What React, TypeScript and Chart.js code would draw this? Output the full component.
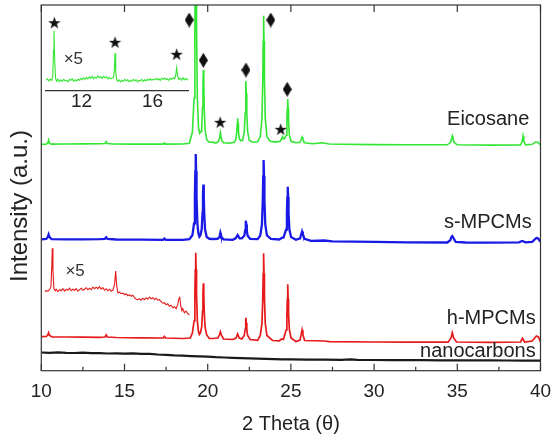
import { useEffect, useRef } from "react";
import { Chart, registerables } from "chart.js";

Chart.register(...registerables);

const FONT = '"Liberation Sans", Arial, Helvetica, sans-serif';
const TEXT = "#222222";
const FRAME = "#333333";

// ---------- axes ----------
const X_MIN = 10;
const X_MAX = 40;
const xMajorTicks = [10, 15, 20, 25, 30, 35, 40];
const xMinorTicks = [12.5, 17.5, 22.5, 27.5, 32.5, 37.5];
const Y_MIN = 0;
const Y_MAX = 365.7;
const insetTicks = [12, 16];
const INSET_X_MIN = 10;
const INSET_X_MAX = 18;
const INSET_Y_MAX = 70.3;

// ---------- stacking offsets (arbitrary units) ----------
const EICOSANE_OFFSET = 226.4;
const SMPCM_OFFSET = 130.4;
const HMPCM_OFFSET = 33.7;
const HMPCM_ZOOM_OFFSET = 80;
const NANOCARBON_OFFSET = 10;

// ---------- series: [2θ, intensity] ----------
const eicosane = [
  [10.0, 0], [10.3, 0.2], [10.39, 1.5], [10.44, 4.3], [10.49, 1.2], [10.6, 0.2], [11.5, 0.3],
  [12.5, 0.4], [13.5, 0.5], [13.84, 0.8], [13.9, 2.6], [13.96, 0.8], [14.3, 0.3], [15.5, 0.2],
  [16.5, 0.2], [17.34, 0.2], [17.4, 1.3], [17.46, 0.2], [18.5, 0.3], [18.9, 1], [19.08, 12],
  [19.18, 46], [19.23, 115], [19.255, 184], [19.28, 230], [19.305, 184], [19.33, 115],
  [19.38, 46], [19.45, 16], [19.52, 11], [19.6, 13], [19.64, 16], [19.69, 37], [19.715, 59.4],
  [19.74, 74.3], [19.765, 59.4], [19.79, 37], [19.84, 15], [19.94, 4.5], [20.1, 2], [20.3, 2.2],
  [20.45, 1.2], [20.6, 2], [20.66, 3.5], [20.71, 6.5], [20.735, 9.3], [20.76, 11.6],
  [20.785, 9.3], [20.81, 6.5], [20.86, 3.5], [20.96, 1.5], [21.3, 1], [21.6, 2], [21.7, 5.2],
  [21.75, 13], [21.775, 20.8], [21.8, 26], [21.825, 20.8], [21.85, 13], [21.9, 5.5], [22.0, 3.5],
  [22.1, 4], [22.2, 12.7], [22.25, 31.6], [22.275, 50.6], [22.3, 63.3], [22.325, 50.6],
  [22.35, 31.6], [22.4, 12.7], [22.5, 4], [22.7, 2], [23.0, 2.5], [23.16, 7.7], [23.26, 25.7],
  [23.31, 64], [23.335, 103], [23.36, 128.6], [23.385, 103], [23.41, 64], [23.46, 25.7],
  [23.56, 7.7], [23.75, 3], [24.1, 2.2], [24.35, 3], [24.45, 5.5], [24.5, 7.6], [24.55, 5.5],
  [24.61, 5.5], [24.71, 9], [24.76, 22.6], [24.785, 36], [24.81, 45.3], [24.835, 36],
  [24.86, 22.6], [24.91, 9], [25.01, 3], [25.3, 1.5], [25.55, 2], [25.62, 5], [25.67, 7.3],
  [25.72, 5], [25.82, 1.5], [26.3, 0.5], [26.9, 1.5], [27.3, 0.3], [28, 0], [30, -0.3],
  [32, -0.5], [34.4, -0.5], [34.6, 2], [34.66, 6], [34.7, 8.3], [34.74, 6], [34.8, 2],
  [35.0, -0.5], [37, -0.8], [38.8, -0.7], [38.9, 3], [38.95, 8.3], [39.0, 3], [39.1, -0.5],
  [39.5, 0], [39.72, 2.5], [39.85, 1.8], [40, -0.5],
];

const sMPCMs = [
  [10.0, 1], [10.3, 1.3], [10.38, 3], [10.44, 6], [10.5, 3], [10.62, 1.2], [11.5, 1], [12.5, 1],
  [13.5, 1.2], [13.82, 1.5], [13.9, 3], [13.98, 1.3], [14.5, 0.8], [16, 0.6], [17.32, 0.5],
  [17.4, 1.8], [17.48, 0.5], [18.5, 0.5], [18.9, 1.2], [19.08, 5], [19.18, 17], [19.23, 43],
  [19.255, 69], [19.28, 86.3], [19.305, 69], [19.33, 43], [19.38, 17], [19.44, 7], [19.5, 3.6],
  [19.56, 5], [19.64, 11], [19.69, 28], [19.715, 44.6], [19.74, 55.8], [19.765, 44.6],
  [19.79, 28], [19.84, 11], [19.94, 3.3], [20.1, 1.5], [20.3, 1.3], [20.6, 1.5], [20.68, 3],
  [20.73, 5.5], [20.76, 7.6], [20.79, 5.5], [20.84, 3], [20.95, 1], [21.5, 0.5], [21.68, 2],
  [21.75, 4], [21.8, 5.3], [21.85, 4], [21.92, 2], [22.05, 2], [22.2, 4.5], [22.25, 9.8],
  [22.275, 15.7], [22.3, 19.6], [22.325, 15.7], [22.35, 9.8], [22.4, 4.5], [22.55, 1.5],
  [23.0, 1.2], [23.16, 4.8], [23.26, 16], [23.31, 40], [23.335, 64], [23.36, 80.3],
  [23.385, 64], [23.41, 40], [23.46, 16], [23.56, 4.8], [23.8, 1.5], [24.3, 0.8], [24.42, 2],
  [24.48, 2.6], [24.55, 2.6], [24.71, 10.7], [24.76, 27], [24.785, 43], [24.81, 53.6],
  [24.835, 43], [24.86, 27], [24.91, 10.7], [25.01, 3.2], [25.3, 0.5], [25.55, 2], [25.62, 6],
  [25.67, 8.8], [25.72, 6], [25.82, 1.5], [26.2, -0.5], [27.0, -0.2], [27.5, -1], [30, -1.5],
  [32, -2], [34.4, -2.2], [34.58, 0], [34.65, 3.5], [34.7, 4.3], [34.76, 2.5], [34.9, -1.5],
  [35.5, -2.2], [37, -2.3], [38.7, -2], [38.9, -0.7], [39.1, -2], [39.5, -1.5], [39.75, 2.4],
  [39.85, 2], [40, -1.5],
];

const hMPCMs = [
  [10.0, 0.3], [10.3, 0.5], [10.39, 2], [10.44, 4.3], [10.5, 1.5], [10.65, 0], [11.5, 0],
  [12.5, -0.2], [13.5, -0.3], [13.83, 0], [13.9, 2], [13.97, 0], [14.5, -0.5], [16, -0.8],
  [17.33, -1], [17.4, 0.5], [17.47, -1], [18.5, -1.5], [18.95, -1], [19.08, 4], [19.18, 16],
  [19.23, 42], [19.255, 67.4], [19.28, 84.3], [19.305, 67.4], [19.33, 42], [19.38, 16],
  [19.44, 6], [19.5, 2.5], [19.56, 4], [19.64, 10], [19.69, 26], [19.715, 43], [19.74, 53.7],
  [19.765, 43], [19.79, 26], [19.84, 10], [19.94, 2], [20.1, -1.5], [20.3, -1.5], [20.62, -1],
  [20.7, 2], [20.76, 5.3], [20.82, 2], [20.95, -2], [21.5, -2.5], [21.7, -1], [21.8, 3],
  [21.9, -1], [22.05, -2], [22.2, 1.5], [22.25, 7.5], [22.275, 14], [22.3, 19.3], [22.325, 14],
  [22.35, 7.5], [22.4, 1.5], [22.55, -2.5], [23.0, -3.3], [23.16, 1.5], [23.26, 13.5],
  [23.31, 38.5], [23.335, 63.5], [23.36, 83.7], [23.385, 63.5], [23.41, 38.5], [23.46, 13.5],
  [23.56, 1.5], [23.9, -3.5], [24.3, -3.8], [24.45, -2], [24.55, -2.5], [24.71, 7],
  [24.76, 22.5], [24.785, 38], [24.81, 52.7], [24.835, 38], [24.86, 22.5], [24.91, 7],
  [25.01, -1], [25.3, -4.5], [25.55, -3], [25.62, 2.5], [25.67, 7], [25.72, 2.5], [25.82, -3.5],
  [27, -4], [27.3, -4.6], [30, -5], [32, -5.2], [34.45, -5.2], [34.62, -1], [34.7, 4.3],
  [34.78, -1], [34.95, -5], [37, -5.3], [38.8, -5], [38.92, -1.3], [39.05, -5], [39.5, -4],
  [39.75, 1], [39.88, 0], [40, -5],
];

// h-MPCMs low-angle region magnified x5
const hMPCMsZoom = [
  [10.22, -1], [10.3, 0], [10.4, -0.5], [10.5, 1], [10.58, 4], [10.63, 25], [10.66, 42.4],
  [10.7, 20], [10.76, 2], [10.85, 0], [10.9, 1.5], [11.0, -1], [11.1, 1], [11.2, 0],
  [11.3, 2], [11.4, -0.5], [11.5, 1.5], [11.6, 0.5], [11.7, 2.5], [11.8, 0], [11.9, 1.5],
  [12.0, 0.5], [12.1, 2], [12.2, -0.5], [12.3, 1], [12.4, 2.5], [12.5, 0.5], [12.6, 1.5],
  [12.7, 3], [12.8, 1], [12.9, 2.5], [13.0, 1], [13.1, 3.5], [13.2, 2], [13.3, 3.5],
  [13.4, 2], [13.5, 4], [13.6, 1.5], [13.7, 3], [13.8, 0.5], [13.9, 2], [14.0, 0],
  [14.1, 1.5], [14.2, -0.5], [14.3, 0.5], [14.4, 6], [14.47, 19.7], [14.53, 5], [14.6, -2],
  [14.7, -1.5], [14.8, -3], [14.9, -2.5], [15.0, -4], [15.1, -3], [15.2, -5], [15.3, -4],
  [15.4, -5.5], [15.5, -4.5], [15.6, -7], [15.7, -8.5], [15.8, -9], [15.9, -8], [16.0, -9.5],
  [16.1, -7.5], [16.2, -9], [16.3, -7], [16.4, -8.5], [16.5, -6.5], [16.6, -8], [16.7, -7],
  [16.8, -9], [16.9, -7.5], [17.0, -9.5], [17.1, -9], [17.2, -11], [17.3, -12.5], [17.4, -12],
  [17.5, -14], [17.6, -13], [17.7, -15.5], [17.8, -14.5], [17.9, -17], [18.0, -16],
  [18.1, -18], [18.2, -14], [18.27, -8], [18.32, -6.6], [18.38, -15], [18.45, -20],
  [18.5, -18], [18.6, -22], [18.7, -20.5], [18.8, -23], [18.9, -24.3],
];

const nanocarbons = [
  [10, 8.2], [10.5, 7.8], [11, 8.3], [11.5, 7.9], [12, 7.7], [12.5, 8.1], [13, 7.5],
  [13.5, 7.6], [14, 7.2], [14.5, 7.4], [15, 7.0], [15.5, 7.3], [16, 6.8], [16.5, 6.9],
  [17, 6.2], [17.5, 5.9], [18, 5.3], [18.5, 5.0], [19, 4.6], [19.5, 4.3], [20, 4.0],
  [20.5, 3.5], [21, 3.2], [21.5, 2.9], [22, 2.6], [22.5, 2.3], [23, 2.0], [23.5, 1.8],
  [24, 1.6], [24.5, 1.4], [25, 1.3], [26, 1.1], [27, 1.0], [28, 0.9], [28.6, 1.3], [29, 0.8],
  [30, 0.7], [31, 0.6], [32, 0.6], [33, 0.5], [34, 0.4], [35, 0.4], [36, 0.3], [37, 0.3],
  [38, 0.2], [39, 0.1], [40, 0],
];

// Eicosane low-angle region magnified x5 (inset)
const eicosaneZoom = [
  [10.0, 10], [10.08, 11.5], [10.16, 9.5], [10.24, 11], [10.32, 10], [10.38, 14], [10.42, 40],
  [10.45, 59.6], [10.49, 30], [10.54, 12], [10.6, 9], [10.68, 11], [10.76, 8.5], [10.84, 10.5],
  [10.92, 9], [11.0, 11], [11.08, 9.5], [11.16, 10], [11.24, 8.5], [11.32, 11], [11.4, 10],
  [11.48, 11.5], [11.56, 9], [11.64, 10.5], [11.72, 9.5], [11.8, 11], [11.88, 10], [11.96, 12],
  [12.04, 10.5], [12.12, 12.5], [12.2, 11], [12.28, 13], [12.36, 11.5], [12.44, 13.5],
  [12.52, 12], [12.6, 14], [12.68, 11.5], [12.76, 13], [12.84, 12], [12.92, 14.5], [13.0, 12.5],
  [13.08, 13.5], [13.16, 12], [13.24, 14], [13.32, 12.5], [13.4, 13.5], [13.48, 11.5],
  [13.56, 13], [13.64, 11.5], [13.72, 12], [13.8, 13], [13.85, 20], [13.89, 37], [13.93, 18],
  [13.98, 11], [14.04, 9], [14.12, 10.5], [14.2, 8.5], [14.28, 10], [14.36, 9], [14.44, 11],
  [14.52, 9.5], [14.6, 10.5], [14.68, 8.5], [14.76, 10], [14.84, 9], [14.92, 11], [15.0, 9.5],
  [15.08, 10.5], [15.16, 8.5], [15.24, 10], [15.32, 9.5], [15.4, 11], [15.48, 9], [15.56, 10.5],
  [15.64, 9.5], [15.72, 11], [15.8, 10], [15.88, 11.5], [15.96, 10], [16.04, 11], [16.12, 10.5],
  [16.2, 12], [16.28, 10.5], [16.36, 11.5], [16.44, 10], [16.52, 12], [16.6, 11], [16.68, 12.5],
  [16.76, 10.5], [16.84, 11.5], [16.92, 10], [17.0, 12], [17.08, 11], [17.16, 12.5],
  [17.24, 11.5], [17.3, 14], [17.36, 22.6], [17.42, 14], [17.48, 11], [17.56, 12], [17.64, 10],
  [17.72, 12.5], [17.8, 10.5], [17.88, 12], [17.96, 10.5], [18.0, 11],
];

// ---------- peak markers ----------
const diamondX = [18.89, 19.74, 22.3, 23.79, 24.78];
const diamondY = [350.7, 310.4, 300.7, 350.7, 281.4];
const starX = [20.75, 24.39];
const starY = [248.4, 241.4];
const insetStarX = [10.47, 13.89, 17.36];
const insetStarY = [67.6, 48, 36];

// ---------- text annotations ----------
const seriesLabels = ["Eicosane", "s-MPCMs", "h-MPCMs", "nanocarbons"];
const seriesLabelX = [39.33, 39.47, 39.71, 39.71];
const seriesLabelY = [245.7, 142.4, 46.7, 13.4];
const zoomLabel = "\u00d75";
const zoomLabelX = 12.03;
const zoomLabelY = 94.7;
const insetZoomLabelX = 11.54;
const insetZoomLabelY = 26.3;

const toPoints = (arr, offset) => arr.map(([x, y]) => ({ x, y: y + offset }));

function makeDiamond() {
  const c = document.createElement("canvas");
  c.width = 9;
  c.height = 15;
  const g = c.getContext("2d");
  g.fillStyle = "#111";
  g.beginPath();
  g.moveTo(4.5, 0);
  g.lineTo(9, 7.5);
  g.lineTo(4.5, 15);
  g.lineTo(0, 7.5);
  g.closePath();
  g.fill();
  return c;
}

function makeStar() {
  const c = document.createElement("canvas");
  c.width = 13;
  c.height = 13;
  const g = c.getContext("2d");
  g.fillStyle = "#111";
  g.beginPath();
  const cx = 6.5, cy = 7, R = 6.5, r = 2.6;
  for (let i = 0; i < 10; i++) {
    const rad = i % 2 === 0 ? R : r;
    const a = -Math.PI / 2 + (i * Math.PI) / 5;
    const px = cx + rad * Math.cos(a);
    const py = cy + rad * Math.sin(a);
    if (i === 0) g.moveTo(px, py);
    else g.lineTo(px, py);
  }
  g.closePath();
  g.fill();
  return c;
}

const framePlugin = {
  id: "frameTicks",
  afterDraw(chart) {
    const { ctx, chartArea } = chart;
    const xs = chart.scales.x;
    ctx.save();
    ctx.strokeStyle = FRAME;
    ctx.lineWidth = 1.2;
    ctx.strokeRect(chartArea.left, chartArea.top, chartArea.right - chartArea.left, chartArea.bottom - chartArea.top);
    ctx.beginPath();
    xMajorTicks.forEach((v) => {
      const px = xs.getPixelForValue(v);
      ctx.moveTo(px, chartArea.bottom);
      ctx.lineTo(px, chartArea.bottom - 7);
      ctx.moveTo(px, chartArea.top);
      ctx.lineTo(px, chartArea.top + 7);
    });
    xMinorTicks.forEach((v) => {
      const px = xs.getPixelForValue(v);
      ctx.moveTo(px, chartArea.bottom);
      ctx.lineTo(px, chartArea.bottom - 4);
    });
    ctx.stroke();
    // y axis title
    ctx.fillStyle = TEXT;
    ctx.font = `24px ${FONT}`;
    ctx.textAlign = "center";
    ctx.textBaseline = "middle";
    ctx.translate(20, 206);
    ctx.rotate(-Math.PI / 2);
    ctx.fillText("Intensity (a.u.)", 0, 0);
    ctx.restore();
  },
};

const labelPlugin = {
  id: "seriesLabels",
  afterDatasetsDraw(chart) {
    const { ctx } = chart;
    const xs = chart.scales.x;
    const ys = chart.scales.y;
    ctx.save();
    ctx.fillStyle = TEXT;
    ctx.font = `20px ${FONT}`;
    ctx.textAlign = "right";
    ctx.textBaseline = "alphabetic";
    seriesLabels.forEach((t, i) => {
      ctx.fillText(t, xs.getPixelForValue(seriesLabelX[i]), ys.getPixelForValue(seriesLabelY[i]));
    });
    ctx.font = `17px ${FONT}`;
    ctx.textAlign = "center";
    ctx.fillStyle = "#333";
    ctx.fillText(zoomLabel, xs.getPixelForValue(zoomLabelX), ys.getPixelForValue(zoomLabelY));
    ctx.restore();
  },
};

const insetLabelPlugin = {
  id: "insetLabels",
  afterDatasetsDraw(chart) {
    const { ctx } = chart;
    const xs = chart.scales.x;
    const ys = chart.scales.y;
    ctx.save();
    ctx.font = `17px ${FONT}`;
    ctx.textAlign = "center";
    ctx.textBaseline = "alphabetic";
    ctx.fillStyle = "#333";
    ctx.fillText(zoomLabel, xs.getPixelForValue(insetZoomLabelX), ys.getPixelForValue(insetZoomLabelY));
    ctx.restore();
  },
};

export default function App() {
  const mainRef = useRef(null);
  const insetRef = useRef(null);

  useEffect(() => {
    const diamond = makeDiamond();
    const star = makeStar();
    const lineDs = (label, data, color, width) => ({
      type: "line",
      label,
      data,
      borderColor: color,
      borderWidth: width,
      pointRadius: 0,
      tension: 0,
      fill: false,
    });

    const main = new Chart(mainRef.current, {
      type: "line",
      data: {
        datasets: [
          {
            type: "scatter",
            label: "diamonds",
            data: diamondX.map((x, i) => ({ x, y: diamondY[i] })),
            pointStyle: diamond,
            showLine: false,
            clip: false,
          },
          {
            type: "scatter",
            label: "stars",
            data: starX.map((x, i) => ({ x, y: starY[i] })),
            pointStyle: star,
            showLine: false,
            clip: false,
          },
          lineDs("Eicosane", toPoints(eicosane, EICOSANE_OFFSET), "#33e633", 1.6),
          lineDs("s-MPCMs", toPoints(sMPCMs, SMPCM_OFFSET), "#1a1ae6", 2.3),
          lineDs("h-MPCMs x5", toPoints(hMPCMsZoom, HMPCM_ZOOM_OFFSET), "#e61a1a", 1.1),
          lineDs("h-MPCMs", toPoints(hMPCMs, HMPCM_OFFSET), "#e61a1a", 1.7),
          lineDs("nanocarbons", toPoints(nanocarbons, NANOCARBON_OFFSET), "#1a1a1a", 2.2),
        ],
      },
      options: {
        responsive: false,
        animation: false,
        devicePixelRatio: 1,
        layout: { padding: { left: 41.3, right: 13.5, top: 5, bottom: 0 } },
        plugins: { legend: { display: false }, tooltip: { enabled: false } },
        scales: {
          x: {
            type: "linear",
            min: X_MIN,
            max: X_MAX,
            afterBuildTicks: (s) => {
              s.ticks = xMajorTicks.map((v) => ({ value: v }));
            },
            afterFit: (s) => {
              s.height = 67.3;
              s.paddingLeft = 0;
              s.paddingRight = 0;
            },
            grid: { display: false, drawTicks: false },
            border: { display: false },
            ticks: {
              autoSkip: false,
              maxRotation: 0,
              padding: 10,
              color: TEXT,
              font: { family: FONT, size: 19 },
            },
            title: {
              display: true,
              text: "2 Theta (\u03b8)",
              color: TEXT,
              font: { family: FONT, size: 20 },
              padding: { top: 0, bottom: 2 },
            },
          },
          y: { display: false, min: Y_MIN, max: Y_MAX },
        },
      },
      plugins: [framePlugin, labelPlugin],
    });

    const inset = new Chart(insetRef.current, {
      type: "line",
      data: {
        datasets: [
          {
            type: "scatter",
            label: "stars",
            data: insetStarX.map((x, i) => ({ x, y: insetStarY[i] })),
            pointStyle: star,
            showLine: false,
            clip: false,
          },
          lineDs("Eicosane x5", eicosaneZoom.map(([x, y]) => ({ x, y })), "#33e633", 1.1),
        ],
      },
      options: {
        responsive: false,
        animation: false,
        devicePixelRatio: 1,
        layout: { padding: { left: 16, right: 17, top: 10, bottom: 0 } },
        plugins: { legend: { display: false }, tooltip: { enabled: false } },
        scales: {
          x: {
            type: "linear",
            min: INSET_X_MIN,
            max: INSET_X_MAX,
            afterBuildTicks: (s) => {
              s.ticks = insetTicks.map((v) => ({ value: v }));
            },
            afterFit: (s) => {
              s.height = 29.7;
              s.paddingLeft = 0;
              s.paddingRight = 0;
            },
            grid: { display: false, drawTicks: false },
            border: { display: true, color: FRAME, width: 1.2 },
            ticks: {
              autoSkip: false,
              maxRotation: 0,
              padding: 0,
              color: TEXT,
              font: { family: FONT, size: 19 },
            },
          },
          y: { display: false, min: 0, max: INSET_Y_MAX },
        },
      },
      plugins: [insetLabelPlugin],
    });

    return () => {
      main.destroy();
      inset.destroy();
    };
  }, []);

  return (
    <div style={{ position: "absolute", left: 0, top: 0, width: 554, height: 438, background: "#fff" }}>
      <canvas ref={mainRef} width={554} height={438} style={{ position: "absolute", left: 0, top: 0 }} />
      <canvas
        ref={insetRef}
        width={175}
        height={110}
        style={{ position: "absolute", left: 30, top: 10, pointerEvents: "none" }}
      />
    </div>
  );
}
